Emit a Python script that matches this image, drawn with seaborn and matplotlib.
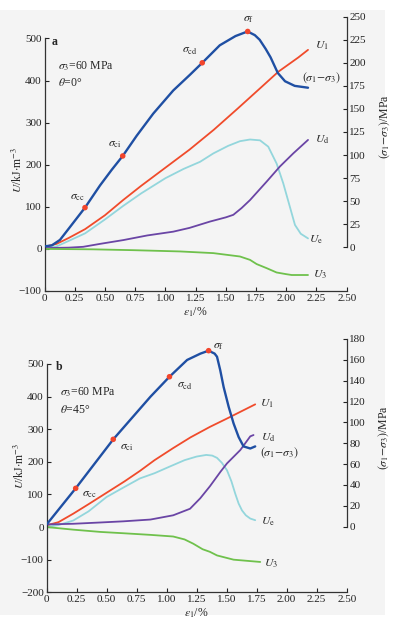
import numpy as np
import pandas as pd
import matplotlib
matplotlib.use("Agg")
import matplotlib.pyplot as plt
from matplotlib.patches import Rectangle
import seaborn as sns

sns.set_style("ticks")
plt.rcParams["font.family"] = ["Liberation Serif", "DejaVu Serif"]
plt.rcParams["mathtext.fontset"] = "stix"

# ---- panel a: theta = 0 deg ----
a_dev_eps = [0, 0.06, 0.128, 0.211, 0.335, 0.459, 0.556, 0.647, 0.763, 0.90, 1.065, 1.203, 1.305,
             1.45, 1.58, 1.68, 1.74, 1.78, 1.83, 1.87, 1.93, 1.99, 2.07, 2.18]
a_dev = [1, 2, 8, 22, 43, 67, 84, 99, 121, 145, 170, 187, 200,
         219, 229, 234, 230, 225, 215, 206, 189, 180, 175, 173]
a_u1_eps = [0, 0.10, 0.20, 0.336, 0.50, 0.65, 0.80, 1.0, 1.2, 1.4, 1.6, 1.8, 1.934, 2.10, 2.18]
a_u1 = [5, 12, 26, 47, 80, 116, 150, 193, 236, 283, 334, 386, 421, 455, 473]
a_ue_eps = [0, 0.10, 0.20, 0.336, 0.50, 0.65, 0.80, 1.0, 1.15, 1.287, 1.397, 1.52, 1.617, 1.70,
            1.783, 1.851, 1.92, 1.975, 2.03, 2.072, 2.12, 2.18]
a_ue = [0, 6, 19, 37, 70, 102, 132, 168, 190, 207, 227, 245, 256, 260,
        258, 243, 203, 156, 100, 57, 36, 25]
a_ud_eps = [0, 0.20, 0.32, 0.46, 0.652, 0.85, 1.065, 1.20, 1.369, 1.50, 1.562, 1.63, 1.70,
            1.838, 1.948, 2.058, 2.18]
a_ud = [2, 3, 5, 12, 21, 32, 41, 50, 65, 75, 81, 97, 116, 160, 196, 227, 259]
a_u3_eps = [0, 0.40, 0.736, 1.121, 1.397, 1.617, 1.70, 1.755, 1.84, 1.92, 2.0, 2.045, 2.18]
a_u3 = [0, -1, -3, -6, -10, -18, -26, -36, -46, -56, -60, -62, -62]
a_pts_eps = [0.335, 0.647, 1.305, 1.681]
a_pts_dev = [43, 99, 200, 234]

# ---- panel b: theta = 45 deg ----
b_dev_eps = [0, 0.243, 0.556, 0.866, 1.024, 1.171, 1.282, 1.35, 1.40, 1.42, 1.447, 1.475,
             1.517, 1.558, 1.60, 1.641, 1.697, 1.738]
b_dev = [2, 36.8, 83.8, 124.7, 143.8, 159.9, 166, 168.8, 166, 163, 150, 134,
         115, 99, 86, 77, 75, 77]
b_u1_eps = [0, 0.10, 0.223, 0.35, 0.50, 0.65, 0.778, 0.90, 1.055, 1.20, 1.361, 1.50, 1.738]
b_u1 = [5, 15, 41, 70, 105, 140, 172, 205, 242, 275, 307, 332, 376]
b_ue_eps = [0, 0.10, 0.223, 0.35, 0.50, 0.65, 0.778, 0.90, 1.024, 1.15, 1.25, 1.33, 1.38, 1.42,
            1.46, 1.503, 1.54, 1.572, 1.60, 1.628, 1.66, 1.697, 1.738]
b_ue = [0, 6, 20, 48, 92, 123, 149, 165, 185, 205, 216, 221, 219, 212,
        197, 174, 140, 102, 72, 51, 36, 26, 21]
b_ud_eps = [0, 0.223, 0.45, 0.64, 0.866, 1.055, 1.195, 1.28, 1.361, 1.45, 1.503, 1.614, 1.697, 1.724]
b_ud = [8, 10, 14, 17.5, 23, 36, 56, 88, 125, 170, 195, 236, 278, 282]
b_u3_eps = [0, 0.223, 0.45, 0.64, 0.866, 1.055, 1.15, 1.222, 1.30, 1.361, 1.42, 1.558, 1.78]
b_u3 = [0, -8, -15, -19, -24, -29, -38, -51, -68, -76, -87, -100, -107]
b_pts_eps = [0.243, 0.556, 1.024, 1.35]
b_pts_dev = [36.8, 83.8, 143.8, 168.8]

xticks = [0, 0.25, 0.5, 0.75, 1.0, 1.25, 1.5, 1.75, 2.0, 2.25, 2.5]
xticklabels = ["0", "0.25", "0.50", "0.75", "1.00", "1.25", "1.50", "1.75", "2.00", "2.25", "2.50"]

c_dev = "#1f4fa3"
c_u1 = "#f04b2b"
c_ue = "#93d6dc"
c_ud = "#6a45a5"
c_u3 = "#6fc14c"
c_pt = "#f2452c"

fig = plt.figure(figsize=(3.94, 6.27), dpi=100)
fig.patch.set_facecolor("white")
fig.patches.append(Rectangle((0, 12 / 627), 385 / 394, 605 / 627, transform=fig.transFigure,
                             facecolor="#f4f4f4", edgecolor="none", zorder=-10))

fs_tick = 8
fs_lab = 8.5


def panel(rect, ylim, yticks, ybounds, rlim, rticks, rbounds, curves, dev_eps, dev, pts_eps, pts_dev,
          lab_left, lab_right_y):
    ax = fig.add_axes(rect)
    ax.patch.set_alpha(0)
    ax2 = ax.twinx()
    ax2.patch.set_alpha(0)
    for eps, vals, col in curves:
        sns.lineplot(x=eps, y=vals, ax=ax, color=col, lw=1.3, sort=False, estimator=None)
    sns.lineplot(x=dev_eps, y=dev, ax=ax2, color=c_dev, lw=1.7, sort=False, estimator=None)
    ax2.scatter(pts_eps, pts_dev, s=16, color=c_pt, zorder=5, edgecolor="none")

    ax.set_xlim(0, 2.5)
    ax.set_ylim(*ylim)
    ax2.set_ylim(*rlim)
    ax.set_xticks(xticks)
    ax.set_xticklabels(xticklabels)
    ax.set_yticks(yticks)
    ax.set_yticklabels([("\u2212" + str(-v)) if v < 0 else str(v) for v in yticks])
    ax2.set_yticks(rticks)
    for s in ["top", "right"]:
        ax.spines[s].set_visible(False)
    for s in ["top", "left", "bottom"]:
        ax2.spines[s].set_visible(False)
    ax.spines["left"].set_bounds(*ybounds)
    ax2.spines["right"].set_bounds(*rbounds)
    for sp in [ax.spines["left"], ax.spines["bottom"], ax2.spines["right"]]:
        sp.set_linewidth(0.9)
        sp.set_color("#333333")
    ax.tick_params(direction="in", length=3, width=0.8, labelsize=fs_tick, pad=2, colors="#222222")
    ax2.tick_params(direction="in", length=3, width=0.8, labelsize=fs_tick, pad=2, colors="#222222")
    ax.set_xlabel(r"$\varepsilon_1$/%", fontsize=fs_lab, labelpad=2)
    ax.set_ylabel(r"$U$/kJ$\cdot$m$^{-3}$", fontsize=fs_lab)
    ax2.set_ylabel(r"$(\sigma_1\!-\!\sigma_3)$/MPa", fontsize=fs_lab)
    ax.yaxis.set_label_coords(lab_left[0], lab_left[1])
    ax2.yaxis.set_label_coords(1.10, lab_right_y)
    return ax, ax2


# top panel
axa, axa2 = panel([44.5 / 394, 1 - 291 / 627, 302.2 / 394, 274.3 / 627],
                  (-100, 551.8), [-100, 0, 100, 200, 300, 400, 500], (-100, 500),
                  (-47.4, 250), list(range(0, 251, 25)), (0, 250),
                  [(a_u1_eps, a_u1, c_u1), (a_ue_eps, a_ue, c_ue), (a_ud_eps, a_ud, c_ud),
                   (a_u3_eps, a_u3, c_u3)],
                  a_dev_eps, a_dev, a_pts_eps, a_pts_dev, (-0.066, 0.44), 0.60)

t = dict(fontsize=fs_lab, va="center")
axa.text(0.06, 492, "a", fontweight="bold", **t)
axa.text(0.114, 433, r"$\sigma_3$=60 MPa", **t)
axa.text(0.114, 394, r"$\theta$=0°", **t)
axa.text(1.686, 546, r"$\sigma_\mathrm{f}$", ha="center", **t)
axa.text(1.203, 473, r"$\sigma_\mathrm{cd}$", ha="center", **t)
axa.text(0.583, 249, r"$\sigma_\mathrm{ci}$", ha="center", **t)
axa.text(0.271, 124, r"$\sigma_\mathrm{cc}$", ha="center", **t)
axa.text(2.237, 482, r"$U_1$", **t)
axa.text(2.127, 408, r"$(\sigma_1\!-\!\sigma_3)$", **t)
axa.text(2.237, 259, r"$U_\mathrm{d}$", **t)
axa.text(2.19, 21, r"$U_\mathrm{e}$", **t)
axa.text(2.22, -62, r"$U_3$", **t)

# bottom panel
axb, axb2 = panel([46.5 / 394, 1 - 592.3 / 627, 300.2 / 394, 253.3 / 627],
                  (-200, 576.3), [-200, -100, 0, 100, 200, 300, 400, 500], (-200, 500),
                  (-62.9, 180), list(range(0, 181, 20)), (0, 180),
                  [(b_u1_eps, b_u1, c_u1), (b_ue_eps, b_ue, c_ue), (b_ud_eps, b_ud, c_ud),
                   (b_u3_eps, b_u3, c_u3)],
                  b_dev_eps, b_dev, b_pts_eps, b_pts_dev, (-0.066, 0.50), 0.61)

axb.text(0.08, 491, "b", fontweight="bold", **t)
axb.text(0.112, 414, r"$\sigma_3$=60 MPa", **t)
axb.text(0.112, 360, r"$\theta$=45°", **t)
axb.text(1.39, 556, r"$\sigma_\mathrm{f}$", **t)
axb.text(1.084, 435, r"$\sigma_\mathrm{cd}$", **t)
axb.text(0.612, 246, r"$\sigma_\mathrm{ci}$", **t)
axb.text(0.293, 102, r"$\sigma_\mathrm{cc}$", **t)
axb.text(1.778, 379, r"$U_1$", **t)
axb.text(1.79, 274, r"$U_\mathrm{d}$", **t)
axb.text(1.778, 227, r"$(\sigma_1\!-\!\sigma_3)$", **t)
axb.text(1.79, 17, r"$U_\mathrm{e}$", **t)
axb.text(1.81, -112, r"$U_3$", **t)

fig.savefig("out.png", dpi=100, facecolor=fig.get_facecolor())
